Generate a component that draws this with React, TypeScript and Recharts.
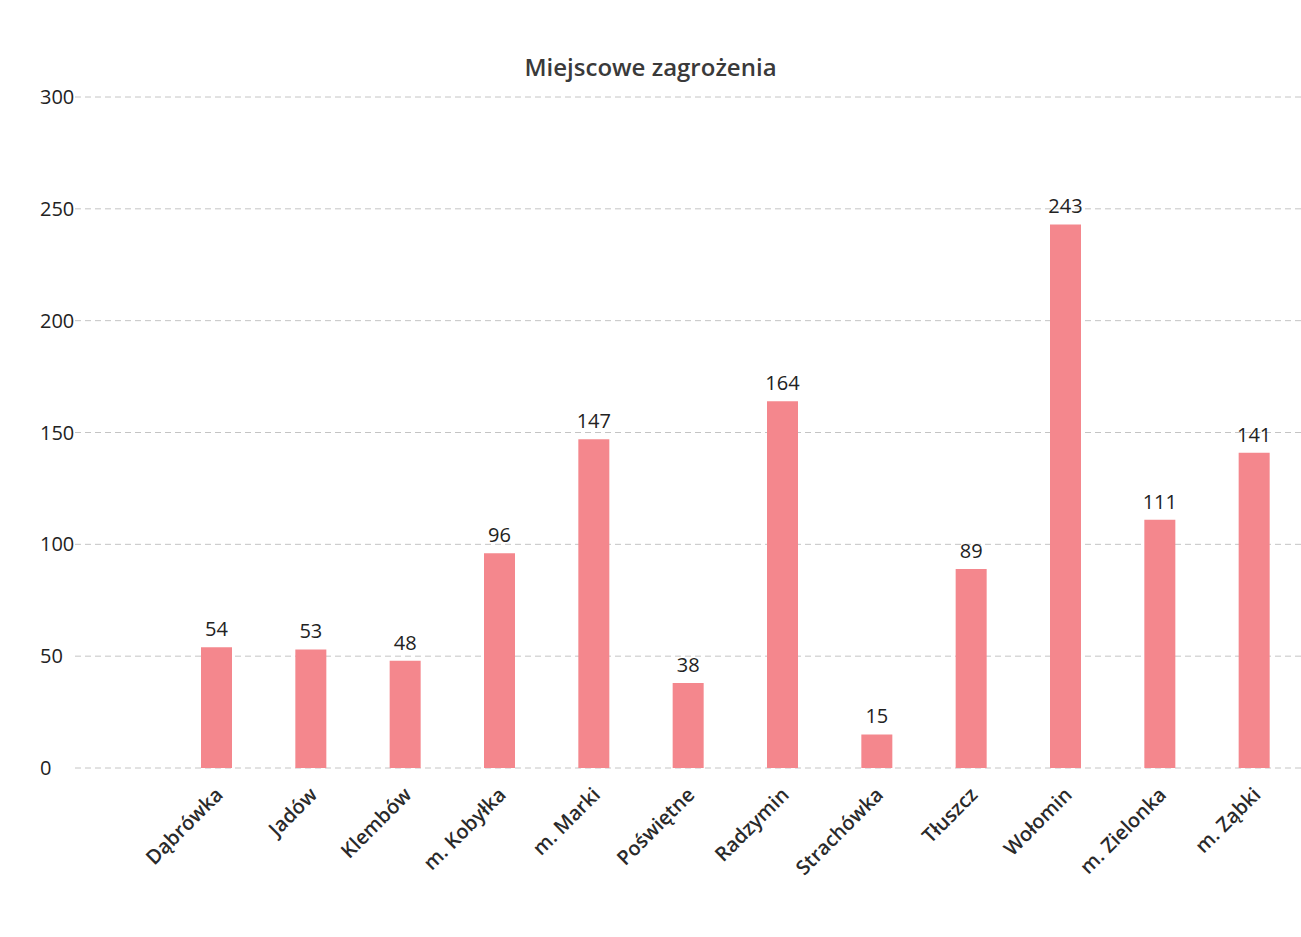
import React from 'react';
import { BarChart, Bar, XAxis, YAxis, CartesianGrid, LabelList } from 'recharts';

const categories = ['Dąbrówka', 'Jadów', 'Klembów', 'm. Kobyłka', 'm. Marki', 'Poświętne', 'Radzymin', 'Strachówka', 'Tłuszcz', 'Wołomin', 'm. Zielonka', 'm. Ząbki'];
const values = [54, 53, 48, 96, 147, 38, 164, 15, 89, 243, 111, 141];
const yTicks = [0, 50, 100, 150, 200, 250, 300];
const title = 'Miejscowe zagrożenia';

const data = categories.map((name, i) => ({ name, value: values[i] }));

const FONT = '"Open Sans", "Liberation Sans", sans-serif';

const XTick = (props: any) => {
  const { x, y, payload } = props;
  return (
    <text
      x={x + 8}
      y={y + 20}
      transform={`rotate(-45, ${x + 8}, ${y + 20})`}
      textAnchor="end"
      fontFamily={FONT}
      fontSize={20}
      fontWeight={600}
      fill="#2a2a2a"
    >
      {payload.value}
    </text>
  );
};

const YTick = (props: any) => {
  const { x, y, payload } = props;
  return (
    <text x={x - 27} y={y + 7} textAnchor="start" fontFamily={FONT} fontSize={20} fill="#222">
      {payload.value}
    </text>
  );
};

export default function App() {
  return (
    <div style={{ position: 'absolute', left: 0, top: 0, width: 1301, height: 937, background: '#fff' }}>
      <div
        style={{
          position: 'absolute',
          left: 0,
          top: 50,
          width: 1301,
          textAlign: 'center',
          fontFamily: FONT,
          fontSize: 24,
          fontWeight: 600,
          color: '#3a3a3a',
        }}
      >
        {title}
      </div>
      <BarChart
        width={1301}
        height={937}
        data={data}
        margin={{ top: 97, right: 0, left: 35, bottom: 0 }}
        barSize={31}
      >
        <CartesianGrid vertical={false} stroke="#c4c4c4" strokeDasharray="6 4" />
        <XAxis
          dataKey="name"
          axisLine={false}
          tickLine={false}
          interval={0}
          height={169}
          padding={{ left: 94, right: 0 }}
          tick={<XTick />}
        />
        <YAxis
          width={40}
          domain={[0, 300]}
          ticks={yTicks}
          axisLine={false}
          tickLine={false}
          tick={<YTick />}
        />
        <Bar dataKey="value" fill="#F4878D" isAnimationActive={false}>
          <LabelList
            dataKey="value"
            position="top"
            offset={11}
            fontFamily={FONT}
            fontSize={20}
            fill="#222"
          />
        </Bar>
      </BarChart>
    </div>
  );
}
